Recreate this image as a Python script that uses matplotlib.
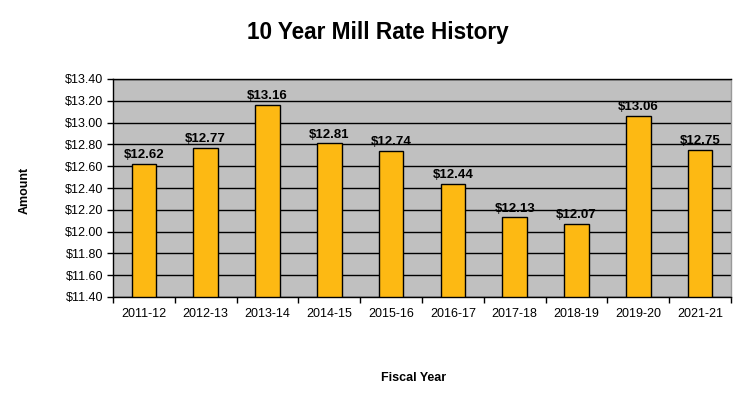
import matplotlib
matplotlib.use("Agg")
import matplotlib.pyplot as plt
import numpy as np
from matplotlib.ticker import FixedLocator

plt.rcParams['font.family'] = ['Liberation Sans', 'DejaVu Sans']

categories = ["2011-12", "2012-13", "2013-14", "2014-15", "2015-16",
              "2016-17", "2017-18", "2018-19", "2019-20", "2021-21"]
values = [12.62, 12.77, 13.16, 12.81, 12.74, 12.44, 12.13, 12.07, 13.06, 12.75]
yticks = [11.40, 11.60, 11.80, 12.00, 12.20, 12.40, 12.60, 12.80, 13.00, 13.20, 13.40]

fig = plt.figure(figsize=(7.45, 4.03), dpi=100)
ax = fig.add_axes([113/745, 1 - 297/403, (731 - 113)/745, (297 - 79)/403])
ax.set_facecolor('#c0c0c0')

x = np.arange(len(categories))
bars = ax.bar(x, [v - yticks[0] for v in values], bottom=yticks[0], width=0.4,
              color='#fdb913', edgecolor='black', linewidth=1, zorder=3)
for xi, v in zip(x, values):
    ax.text(xi, v + 0.025, f"${v:.2f}", ha='center', va='bottom',
            fontsize=9.5, fontweight='bold', zorder=4)

ax.set_xlim(-0.5, len(categories) - 0.5)
ax.set_ylim(yticks[0], yticks[-1])
ax.set_yticks(yticks)
ax.set_yticklabels([f"${t:.2f}" for t in yticks], fontsize=9)
ax.yaxis.grid(True, color='black', linewidth=1, zorder=1)
ax.set_axisbelow(True)

ax.set_xticks(x)
ax.set_xticklabels(categories, fontsize=9)
ax.tick_params(axis='x', length=0, pad=8)
ax.xaxis.set_minor_locator(FixedLocator(np.arange(-0.5, len(categories), 1.0)))
ax.tick_params(axis='x', which='minor', length=4, width=1, direction='out')
ax.tick_params(axis='y', length=4, width=1, direction='out', pad=3)

for s in ['left', 'bottom', 'top']:
    ax.spines[s].set_color('black')
    ax.spines[s].set_linewidth(1)
ax.spines['right'].set_color('#999999')
ax.spines['right'].set_linewidth(1)

fig.text(378/745, 1 - 33/403, "10 Year Mill Rate History", ha='center', va='center',
         fontsize=16.3, fontweight='bold')
fig.text(414/745, 1 - 378/403, "Fiscal Year", ha='center', va='center',
         fontsize=9, fontweight='bold')
fig.text(25/745, 1 - 190/403, "Amount", ha='center', va='center', rotation=90,
         fontsize=9, fontweight='bold')

fig.savefig("out.png", dpi=100)
